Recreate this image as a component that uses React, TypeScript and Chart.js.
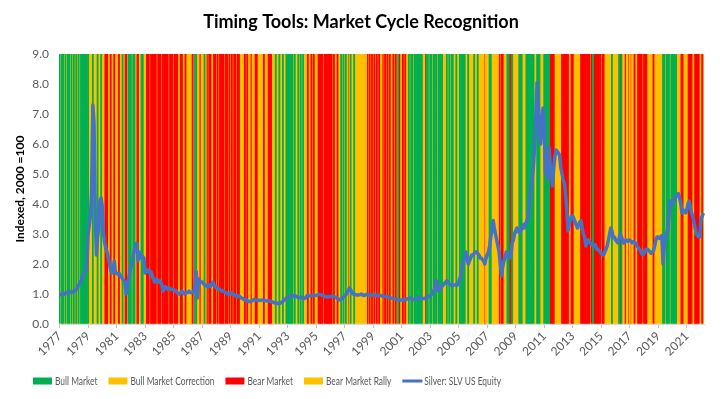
import React, { useEffect, useRef } from "react";
import { Chart, registerables } from "chart.js";

Chart.register(...registerables);

// ---------- data ----------
const FIRST_YEAR = 1977;

// Market regime per month (one string per year, Jan..Dec)
// G = Bull Market, Y = Bull Market Correction, R = Bear Market, O = Bear Market Rally
const regimeByYear: string[] = [
  "GYGGYGYGGYGY", // 1977
  "GYGYGYGGGGGG", // 1978
  "GYYYGYYYGYYG", // 1979
  "YYRRROOROORO", // 1980
  "OOROYGYRROGG", // 1981
  "GYGGYRROOGGY", // 1982
  "YRRRORRRRROR", // 1983
  "RRORRRRRORRR", // 1984
  "ORRROORROORO", // 1985
  "OOOOROGGYYRO", // 1986
  "OYGYRORROORR", // 1987
  "ORORRRRORROR", // 1988
  "ORORRORROOOO", // 1989
  "ROROYROOORRO", // 1990
  "OOOOROOORRRO", // 1991
  "YYGYYGYYGYYG", // 1992
  "GGGGGYGYYGYG", // 1993
  "YGYYOROORORO", // 1994
  "OORRRRORRRRR", // 1995
  "RROROOROYGYG", // 1996
  "YGYRYGYYGYYY", // 1997
  "YYYYYYYROROR", // 1998
  "OROROROYRORO", // 1999
  "ROROOROROGRO", // 2000
  "OROROYGYGGYG", // 2001
  "GGGGGGYYRGGY", // 2002
  "GGYGGGYGGGGY", // 2003
  "YYGYGYGGYYGY", // 2004
  "YGGGGGYYGYYY", // 2005
  "YGYYGYYYYYRY", // 2006
  "YYGGYYYYYYRO", // 2007
  "RROYYGGRRGYY", // 2008
  "YYYGGGYYYGGG", // 2009
  "GGGGYYGGGYYY", // 2010
  "GGGGGRRRROOO", // 2011
  "OOORRRRRROOR", // 2012
  "ROOOOOORRRRR", // 2013
  "RRRORGRRRRRR", // 2014
  "ORROOOOOOGYY", // 2015
  "YYYGRGYYROYR", // 2016
  "YRYOROORRRRO", // 2017
  "RRROOOOOROOO", // 2018
  "OOOOGGYGGGYG", // 2019
  "GGGGYYYRRRYY", // 2020
  "YRRRROORRRRO", // 2021
  "ORO",          // 2022
];

// Silver (SLV US Equity), indexed 2000 = 100 (shown /100), monthly
const silverByYear: number[][] = [
  [0.97, 0.98, 1.0, 1.02, 1.0, 1.03, 1.05, 1.02, 1.06, 1.08, 1.05, 1.08],
  [1.08, 1.12, 1.15, 1.2, 1.3, 1.35, 1.42, 1.55, 1.65, 1.7, 1.75, 1.9],
  [3.0, 3.3, 3.6, 4.5, 7.3, 6.7, 3.6, 2.3, 2.9, 3.2, 4.1, 4.2],
  [3.9, 3.0, 2.7, 2.5, 2.4, 2.2, 2.0, 1.8, 1.7, 1.75, 2.1, 1.7],
  [1.7, 1.65, 1.7, 1.6, 1.6, 1.5, 1.45, 1.4, 1.0, 1.2, 1.5, 1.7],
  [1.9, 2.0, 2.3, 2.5, 2.6, 2.7, 2.1, 2.4, 2.3, 2.2, 2.25, 2.2],
  [1.7, 1.8, 1.75, 1.8, 1.7, 1.75, 1.6, 1.5, 1.4, 1.45, 1.5, 1.4],
  [1.45, 1.4, 1.3, 1.1, 1.2, 1.25, 1.2, 1.15, 1.2, 1.18, 1.15, 1.15],
  [1.15, 1.1, 1.1, 1.05, 1.0, 1.0, 1.05, 1.1, 1.05, 1.0, 1.02, 1.05],
  [1.05, 1.1, 1.05, 1.05, 1.05, 1.1, 1.3, 1.74, 0.87, 1.5, 1.45, 1.4],
  [1.4, 1.35, 1.3, 1.3, 1.25, 1.3, 1.3, 1.25, 1.3, 1.4, 1.3, 1.25],
  [1.2, 1.2, 1.15, 1.15, 1.1, 1.12, 1.1, 1.05, 1.05, 1.0, 1.0, 1.0],
  [1.05, 1.0, 1.0, 0.97, 0.95, 0.92, 0.92, 0.95, 0.9, 0.87, 0.85, 0.82],
  [0.8, 0.82, 0.78, 0.75, 0.75, 0.74, 0.77, 0.8, 0.82, 0.8, 0.8, 0.78],
  [0.8, 0.78, 0.8, 0.8, 0.8, 0.78, 0.77, 0.78, 0.78, 0.76, 0.75, 0.74],
  [0.72, 0.7, 0.7, 0.7, 0.68, 0.68, 0.7, 0.72, 0.75, 0.8, 0.82, 0.87],
  [0.88, 0.9, 0.92, 0.95, 0.95, 0.93, 0.95, 0.92, 0.9, 0.88, 0.88, 0.9],
  [0.88, 0.86, 0.85, 0.87, 0.92, 0.97, 0.95, 0.93, 0.95, 0.95, 0.96, 0.95],
  [0.95, 0.97, 0.98, 0.98, 0.97, 0.96, 0.95, 0.93, 0.92, 0.9, 0.9, 0.92],
  [0.92, 0.92, 0.93, 0.92, 0.9, 0.88, 0.85, 0.82, 0.8, 0.82, 0.85, 0.9],
  [0.93, 0.97, 1.05, 1.1, 1.2, 1.15, 1.05, 1.0, 1.0, 0.98, 0.97, 0.97],
  [0.97, 0.98, 1.0, 0.97, 0.95, 0.96, 0.98, 1.0, 0.97, 0.95, 0.96, 0.97],
  [0.97, 0.98, 0.96, 0.95, 0.95, 0.96, 0.95, 0.94, 0.93, 0.93, 0.92, 0.92],
  [0.91, 0.9, 0.88, 0.87, 0.85, 0.85, 0.84, 0.83, 0.82, 0.81, 0.8, 0.8],
  [0.8, 0.79, 0.8, 0.8, 0.82, 0.84, 0.85, 0.86, 0.85, 0.83, 0.82, 0.83],
  [0.84, 0.85, 0.86, 0.85, 0.87, 0.85, 0.85, 0.85, 0.86, 0.88, 0.9, 0.93],
  [0.95, 0.98, 1.05, 1.1, 1.2, 1.45, 1.3, 1.1, 1.15, 1.2, 1.25, 1.3],
  [1.35, 1.4, 1.45, 1.4, 1.35, 1.3, 1.3, 1.28, 1.3, 1.3, 1.32, 1.3],
  [1.4, 1.5, 1.7, 1.9, 2.1, 2.2, 2.4, 2.2, 2.0, 2.1, 2.2, 2.3],
  [2.3, 2.35, 2.4, 2.4, 2.35, 2.3, 2.2, 2.2, 2.15, 2.1, 2.0, 2.2],
  [2.3, 2.4, 2.6, 2.9, 3.1, 3.45, 3.2, 3.0, 2.8, 2.6, 2.4, 2.0],
  [1.6, 1.9, 2.1, 2.2, 2.4, 2.3, 2.3, 2.2, 2.3, 2.7, 2.8, 3.0],
  [3.1, 3.2, 3.1, 3.05, 3.1, 3.2, 3.3, 3.2, 3.35, 3.4, 3.5, 3.8],
  [4.2, 4.6, 4.9, 5.3, 6.0, 7.0, 8.05, 7.2, 6.5, 6.0, 6.8, 7.2],
  [6.6, 5.0, 5.6, 4.8, 5.9, 5.3, 5.0, 4.6, 5.2, 5.6, 5.8, 5.75],
  [5.7, 5.6, 5.2, 5.0, 4.8, 4.7, 4.3, 3.8, 3.1, 3.3, 3.5, 3.6],
  [3.6, 3.5, 3.4, 3.3, 3.2, 3.3, 3.4, 3.45, 3.2, 3.0, 2.9, 2.6],
  [2.7, 2.8, 2.75, 2.7, 2.65, 2.6, 2.6, 2.65, 2.5, 2.5, 2.45, 2.4],
  [2.35, 2.3, 2.3, 2.4, 2.5, 2.6, 2.8, 3.0, 3.2, 3.1, 2.9, 2.9],
  [2.8, 2.75, 2.7, 2.85, 3.0, 2.9, 2.8, 2.7, 2.75, 2.8, 2.75, 2.8],
  [2.8, 2.75, 2.7, 2.75, 2.7, 2.7, 2.6, 2.55, 2.5, 2.45, 2.35, 2.3],
  [2.35, 2.45, 2.5, 2.5, 2.45, 2.4, 2.35, 2.4, 2.45, 2.6, 2.8, 2.9],
  [2.9, 2.85, 2.9, 2.95, 2.0, 2.6, 2.9, 3.0, 3.2, 3.6, 4.1, 4.0],
  [4.0, 4.1, 4.2, 4.25, 4.3, 4.35, 4.2, 4.0, 3.7, 3.8, 3.75, 3.7],
  [3.8, 4.0, 4.1, 3.9, 3.7, 3.6, 3.4, 3.2, 3.0, 2.95, 2.9, 2.9],
  [3.5, 3.6, 3.7],
];

const regimeKeys = ["G", "Y", "R", "O"];
const regimeNames = ["Bull Market", "Bull Market Correction", "Bear Market", "Bear Market Rally"];
const regimeColors = ["#00B050", "#FFC000", "#FF0000", "#FFC000"];
const lineName = "Silver: SLV US Equity";
const lineColor = "#4472C4";
const Y_MIN = 0;
const Y_MAX = 9;
const Y_STEP = 1;
const TICK_YEAR_STEP = 2;

const TITLE = "Timing Tools: Market Cycle Recognition";
const Y_TITLE = "Indexed, 2000 =100";

const FONT = "Lato, 'Open Sans', sans-serif";

// Bottom legend drawn on the chart canvas (condensed text like the original)
const bottomLegend = {
  id: "bottomLegend",
  afterDraw(chart: any) {
    const ctx: CanvasRenderingContext2D = chart.ctx;
    const y = chart.height - 18;
    const sx = 0.7;
    let x = 33;
    ctx.save();
    ctx.font = `12px ${FONT}`;
    ctx.textBaseline = "middle";
    ctx.textAlign = "left";
    chart.data.datasets.forEach((ds: any) => {
      const isLine = ds.type === "line";
      ctx.fillStyle = isLine ? ds.borderColor : ds.backgroundColor;
      if (isLine) {
        ctx.fillRect(x, y - 1.5, 20, 3);
      } else {
        ctx.fillRect(x, y - 3.5, 19, 7);
      }
      x += 22;
      ctx.fillStyle = "#595959";
      ctx.save();
      ctx.translate(x, y);
      ctx.scale(sx, 1);
      ctx.fillText(ds.label, 0, 0);
      ctx.restore();
      x += ctx.measureText(ds.label).width * sx + 11;
    });
    ctx.restore();
  },
};

export default function App() {
  const ref = useRef<HTMLCanvasElement>(null);

  useEffect(() => {
    const labels: string[] = [];
    const monthIdx: number[] = [];
    const codes: string[] = [];
    const silver: number[] = [];
    regimeByYear.forEach((row, yi) => {
      for (let m = 0; m < row.length; m++) {
        labels.push(String(FIRST_YEAR + yi));
        monthIdx.push(m);
        codes.push(row[m]);
        silver.push(silverByYear[yi][m]);
      }
    });

    const barSets = regimeKeys.map((key, i) => ({
      type: "bar" as const,
      label: regimeNames[i],
      data: codes.map((c) => (c === key ? Y_MAX : null)),
      backgroundColor: regimeColors[i],
      borderWidth: 0,
      grouped: false,
      barPercentage: 1,
      categoryPercentage: 1,
      order: 1,
    }));

    const chart = new Chart(ref.current!, {
      type: "bar",
      data: {
        labels,
        datasets: [
          ...barSets,
          {
            type: "line" as const,
            label: lineName,
            data: silver,
            borderColor: lineColor,
            backgroundColor: lineColor,
            borderWidth: 3.5,
            pointRadius: 0,
            pointHoverRadius: 0,
            tension: 0,
            order: -1,
            borderJoinStyle: "round",
          } as any,
        ],
      },
      options: {
        responsive: true,
        maintainAspectRatio: false,
        animation: false,
        events: [],
        layout: { padding: { top: 0, left: 0, right: 0, bottom: 33.5 } },
        scales: {
          x: {
            offset: true,
            grid: {
              display: true,
              drawOnChartArea: false,
              drawTicks: true,
              tickLength: 4,
              color: "#BFBFBF",
              offset: false,
            },
            border: { display: true, color: "#D9D9D9" },
            ticks: {
              autoSkip: false,
              minRotation: 45,
              maxRotation: 45,
              padding: 1,
              color: "#595959",
              font: { family: FONT, size: 12 },
            },
            afterBuildTicks: (scale: any) => {
              scale.ticks = scale.ticks.filter(
                (t: any) =>
                  monthIdx[t.value] === 0 &&
                  (Number(labels[t.value]) - FIRST_YEAR) % TICK_YEAR_STEP === 0
              );
            },
            afterFit: (scale: any) => {
              scale.height = 41.5;
            },
          },
          y: {
            min: Y_MIN,
            max: Y_MAX,
            ticks: {
              stepSize: Y_STEP,
              padding: 10,
              color: "#595959",
              font: { family: FONT, size: 12 },
              callback: (v: any) => Number(v).toFixed(1),
            },
            grid: { color: "#D9D9D9", drawTicks: false },
            border: { display: false },
            title: {
              display: true,
              text: Y_TITLE,
              color: "#000000",
              font: { family: FONT, size: 12, weight: "bold" },
              padding: { top: 13, bottom: 0 },
            },
            afterFit: (scale: any) => {
              scale.width = 59;
            },
          },
          y2: {
            position: "right",
            display: true,
            grid: { display: false },
            border: { display: false },
            ticks: { display: false },
            afterFit: (scale: any) => {
              scale.width = 18;
            },
          },
        },
        plugins: {
          tooltip: { enabled: false },
          legend: { display: false },
          title: {
            display: true,
            text: TITLE,
            color: "#000000",
            font: { family: FONT, size: 18, weight: "bold" },
            padding: { top: 11, bottom: 21.4 },
          },
        },
      } as any,
      plugins: [bottomLegend],
    });

    return () => chart.destroy();
  }, []);

  return (
    <div
      style={{
        position: "fixed",
        left: 0,
        top: 0,
        width: 722,
        height: 399,
        background: "#ffffff",
      }}
    >
      <canvas ref={ref} style={{ display: "block" }} />
    </div>
  );
}
